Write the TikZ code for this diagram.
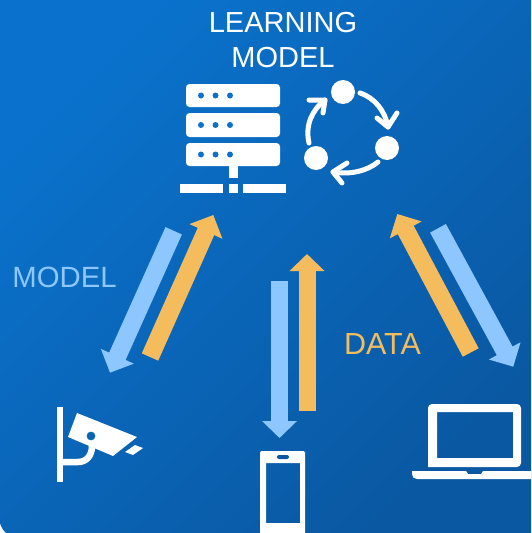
\documentclass[tikz,border=0pt]{standalone}
\usepackage{fontspec}
\setmainfont{Liberation Sans}
\usetikzlibrary{arrows.meta}
\definecolor{bluearrow}{HTML}{8EC7FF}
\definecolor{orangearrow}{HTML}{F5BC5E}
\definecolor{bgA}{HTML}{0A72CC}
\definecolor{bgB}{HTML}{0A58A2}
\tikzset{
  fatarrow/.style={line width=17pt,-{Triangle[length=17pt,width=34pt]}},
  widearrow/.style={line width=18pt,-{Triangle[length=18pt,width=35pt]}},
  bluefat/.style={draw=bluearrow},
  orangefat/.style={draw=orangearrow},
  label/.style={inner sep=0pt,align=center},
  rack/.style={fill=white,rounded corners=3.5pt},
  loopline/.style={draw=white,line width=5pt,line cap=round,line join=round},
  icon/.style={fill=white,draw=none}
}
\begin{document}
\begin{tikzpicture}[x=1pt,y=-1pt]
\useasboundingbox (0,0) rectangle (531,533);
\fill[white] (0,0) rectangle (531,533);
\shade[bottom color=bgB,top color=bgA,shading angle=45]
  (0,0) -- (531,0) -- (531,533) -- (6,533) .. controls (3,530) and (1,527) .. (0,523) -- cycle;

\node[label,white,font=\fontsize{29}{35}\selectfont] (title) at (283,40) {LEARNING\\MODEL};
\node[label,bluearrow,font=\fontsize{29.3}{34}\selectfont] (modeltext) at (64.5,277) {MODEL};
\node[label,orangearrow,font=\fontsize{30.5}{34}\selectfont] (datatext) at (382.5,344) {DATA};

% end points of the arrows
\coordinate (b1s) at (173.7,230.8); \coordinate (b1e) at (110,372.7);
\coordinate (o1s) at (150,357); \coordinate (o1e) at (213.3,215);
\coordinate (b2s) at (279.5,281); \coordinate (b2e) at (279.5,438);
\coordinate (o2s) at (307,411); \coordinate (o2e) at (307,254);
\coordinate (o3s) at (470.7,352.5); \coordinate (o3e) at (397.3,214);
\coordinate (b3s) at (438,228.3); \coordinate (b3e) at (513.3,366.7);
\draw[widearrow,bluefat] (b1s) -- (b1e);
\draw[widearrow,orangefat] (o1s) -- (o1e);
\draw[fatarrow,bluefat] (b2s) -- (b2e);
\draw[fatarrow,orangefat] (o2s) -- (o2e);
\draw[widearrow,orangefat] (o3s) -- (o3e);
\draw[widearrow,bluefat] (b3s) -- (b3e);

% server
\foreach \ya/\yb in {84/107,113/137,143/166}{
  \fill[rack] (186,\ya) rectangle (280,\yb);
  \foreach \xx in {201,215.5,230}
    \fill[bgA] (\xx,{(\ya+\yb)/2}) circle (3);
}
\fill[icon] (229,166) rectangle (238,178);
\fill[icon] (180,184) rectangle (223,193);
\fill[icon] (229,184) rectangle (238,193);
\fill[icon] (243,184) rectangle (286,193);

% learning loop
\fill[icon] (343,92) circle (12);
\fill[icon] (387,148) circle (12);
\fill[icon] (316,158) circle (12);
\draw[loopline] (360,93) .. controls (375,98) and (385,111) .. (388,127);
\draw[loopline] (377,118) -- (388,127) -- (397,113);
\draw[loopline] (378,162) .. controls (367,171) and (350,175) .. (333,172);
\draw[loopline] (347,163) -- (333,172) -- (342,183);
\draw[loopline] (309,143) .. controls (305,125) and (312,110) .. (325,100);
\draw[loopline] (309,100) -- (325,100) -- (323,113);

% camera
\fill[icon] (56.5,407) rectangle (63,482);
\draw[white,line width=6.5pt] (60,462) -- (78,462) .. controls (86,462) and (92,456) .. (92,446);
\fill[icon,even odd rule] (77,413) -- (137,437) -- (113,456) -- (68,437) -- cycle (95.5,436) arc[start angle=0,end angle=360,radius=4.5];
\fill[icon] (135,445) -- (143,448) -- (133,455) -- (125,452) -- cycle;

% phone
\fill[icon,even odd rule] (260,533) -- (260,453) [rounded corners=2pt] -- (260,451) -- (305,451) -- (305,453) [sharp corners] -- (305,533) -- cycle
  (266,463) rectangle (300,523);
\fill[bgB,rounded corners=2pt] (277,455) rectangle (289,459);

% laptop
\fill[icon,even odd rule] [rounded corners=4pt] (428,467) -- (428,404) -- (521,404) -- (521,467) [sharp corners] -- cycle
  (437,412) rectangle (513,458);
\fill[icon] (531,471) -- (483,471) -- (481,474) -- (468,474) -- (466,471) -- (412,471) -- (412,474) .. controls (412,477) and (414,479) .. (417,479) -- (531,479) -- cycle;
\end{tikzpicture}
\end{document}
